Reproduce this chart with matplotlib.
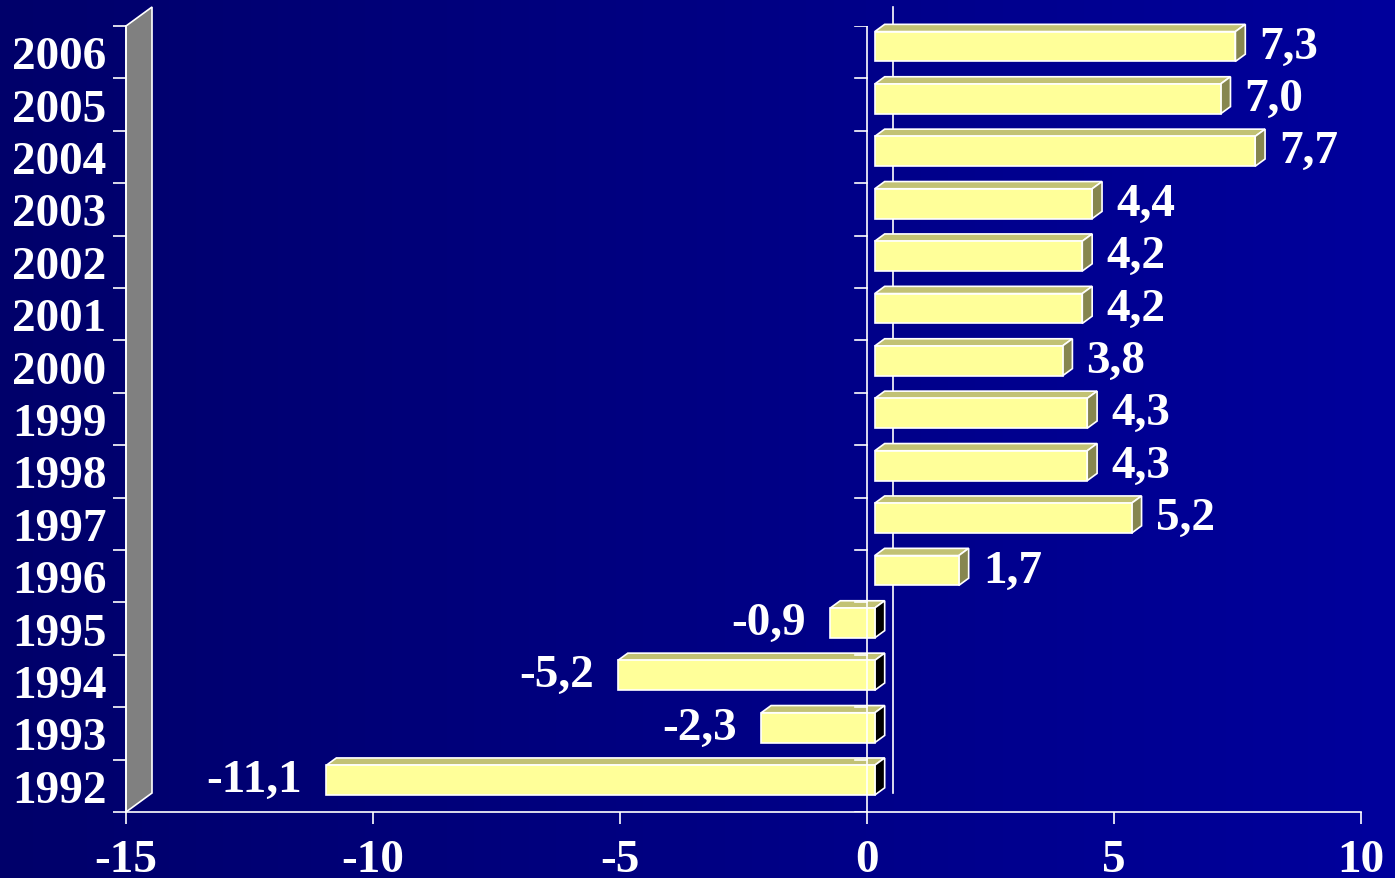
import numpy as np
import matplotlib.pyplot as plt
from matplotlib.patches import Polygon
from matplotlib.colors import LinearSegmentedColormap

plt.rcParams['font.family'] = ['Liberation Serif', 'DejaVu Serif']

# data
years = ['1992', '1993', '1994', '1995', '1996', '1997', '1998', '1999',
         '2000', '2001', '2002', '2003', '2004', '2005', '2006']
growth = [-11.1, -2.3, -5.2, -0.9, 1.7, 5.2, 4.3, 4.3,
          3.8, 4.2, 4.2, 4.4, 7.7, 7.0, 7.3]
x_ticks = [-15, -10, -5, 0, 5, 10]

W, H = 1395, 879
fig = plt.figure(figsize=(W / 100, H / 100), dpi=100)

# background, dark blue gradient left -> right
bg = fig.add_axes([0, 0, 1, 1], zorder=-10)
cmap = LinearSegmentedColormap.from_list('bg', ['#00006a', '#00009c'])
bg.imshow(np.linspace(0, 1, 256).reshape(1, -1), aspect='auto', cmap=cmap,
          extent=[0, 1, 0, 1])
bg.axis('off')

ax = fig.add_axes([126 / W, 66 / H, 1235 / W, 786 / H])
ax.set_facecolor('none')
n = len(years)
ax.set_xlim(-15, 10)
ax.set_ylim(-0.5, n - 0.5)

# pixel -> data helpers for the fake 3d depth
inv = ax.transData.inverted()
o = inv.transform((0, 0))
def px(dx_px, dy_px):
    p = inv.transform((dx_px, dy_px)) - o
    return p[0], p[1]

DX, DY = px(26, 19)
f_d, b_d = 0.3, 0.68
bar_h = 0.57
edge = dict(edgecolor='white', linewidth=1.2)
fs = 34

# side wall
wall = Polygon([(-15, -0.5), (-15, n - 0.5), (-15 + DX, n - 0.5 + DY), (-15 + DX, -0.5 + DY)],
               closed=True, facecolor='#808080', clip_on=False, zorder=1, **edge)
ax.add_patch(wall)

# zero line on back wall
ax.plot([DX, DX], [-0.5 + DY, n - 0.5 + DY], color='white', lw=1.2, zorder=1, clip_on=False)

# bars
for i, v in enumerate(growth):
    lo, hi = min(0, v), max(0, v)
    yb, yt = i - bar_h / 2, i + bar_h / 2
    fx, fy = f_d * DX, f_d * DY
    bx, by = b_d * DX, b_d * DY
    front = [(lo + fx, yb + fy), (hi + fx, yb + fy), (hi + fx, yt + fy), (lo + fx, yt + fy)]
    top = [(lo + fx, yt + fy), (hi + fx, yt + fy), (hi + bx, yt + by), (lo + bx, yt + by)]
    side = [(hi + fx, yb + fy), (hi + fx, yt + fy), (hi + bx, yt + by), (hi + bx, yb + by)]
    ax.add_patch(Polygon(top, closed=True, facecolor='#c2c274', zorder=3, clip_on=False, **edge))
    ax.add_patch(Polygon(side, closed=True, facecolor='#86864f' if v > 0 else 'black',
                         zorder=3, clip_on=False, **edge))
    ax.add_patch(Polygon(front, closed=True, facecolor='#ffff99', zorder=3, clip_on=False, **edge))

    lab = f'{v:.1f}'.replace('.', ',')
    if v > 0:
        ax.annotate(lab, (v + fx, i + fy), xytext=(24, 0), textcoords='offset pixels',
                    ha='left', va='center', color='white', fontsize=fs, fontweight='bold', zorder=5)
    else:
        ax.annotate(lab, (v + fx, i + fy), xytext=(-24, 0), textcoords='offset pixels',
                    ha='right', va='center', color='white', fontsize=fs, fontweight='bold', zorder=5)

# front zero axis with its ticks
bounds = np.arange(-0.5, n, 1.0)
tk, _ = px(12, 0)
ax.plot([0, 0], [-0.5, n - 0.5], color='white', lw=1.2, zorder=4)
for b in bounds:
    ax.plot([-tk, 0], [b, b], color='white', lw=1.2, zorder=4)

# axes styling
for s in ['top', 'right']:
    ax.spines[s].set_visible(False)
for s in ['left', 'bottom']:
    ax.spines[s].set_color('white')
    ax.spines[s].set_linewidth(1.2)

ax.set_xticks(x_ticks)
ax.set_xticklabels([str(t) for t in x_ticks])
ax.tick_params(axis='x', colors='white', length=8.6, width=1.2, pad=11,
               labelsize=fs)
for t in ax.get_xticklabels():
    t.set_fontweight('bold')

ax.set_yticks(bounds)
ax.set_yticklabels([])
ax.set_yticks(np.arange(n), minor=True)
ax.set_yticklabels(years, minor=True)
ax.tick_params(axis='y', which='major', colors='white', length=9.4, width=1.2)
ax.tick_params(axis='y', which='minor', colors='white', length=0, pad=14, labelsize=fs)
for t in ax.get_yticklabels(minor=True):
    t.set_fontweight('bold')

fig.savefig('out.png', dpi=100, facecolor='#000080')
